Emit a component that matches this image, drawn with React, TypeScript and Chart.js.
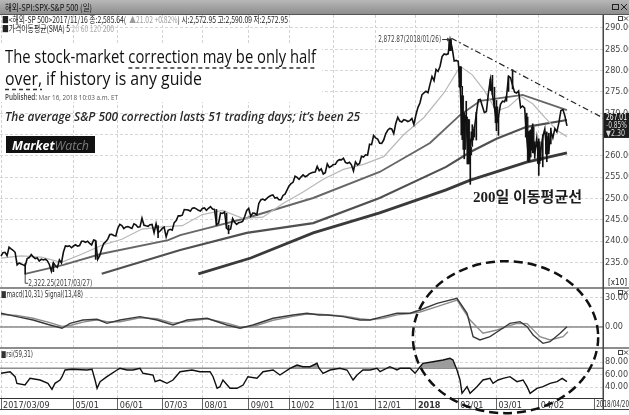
import { useEffect, useRef } from 'react';
import { Chart, registerables } from 'chart.js';
Chart.register(...registerables);

// ---------- data (price values in units of 10 index points, as on the chart's [x10] axis) ----------
const closeValues = [
  // 2017-03 (from 03/09)
  236.49, 237.26, 237.35, 236.55, 238.53, 238.14, 237.83, 237.35, 234.40, 234.85, 234.60, 234.40, 234.16, 235.86, 236.11, 236.81, 236.27,
  // 2017-04
  235.88, 236.02, 235.30, 235.75, 235.55, 235.72, 235.38, 234.49, 232.90, 234.90, 234.22, 233.82, 235.58, 234.87, 237.42, 238.86, 238.75, 238.88, 238.42,
  // 2017-05
  238.83, 239.12, 238.81, 238.95, 239.93, 239.94, 239.69, 239.96, 239.44, 239.09, 240.23, 240.07, 235.70, 236.57, 238.17, 239.40, 239.84, 240.44, 241.51, 241.58, 241.29, 241.18,
  // 2017-06
  243.01, 243.91, 243.61, 242.93, 243.31, 243.38, 243.18, 242.94, 244.04, 243.79, 243.25, 243.32, 245.35, 243.70, 243.56, 243.45, 243.83, 243.91, 241.94, 244.07, 241.97, 242.34,
  // 2017-07
  242.90, 243.25, 240.98, 242.52, 242.74, 242.55, 244.33, 244.78, 245.93, 245.91, 246.06, 247.38, 247.35, 247.25, 246.99, 247.71, 247.78, 247.54, 247.21, 247.03,
  // 2017-08
  247.64, 247.76, 247.22, 247.68, 248.09, 247.49, 247.40, 243.82, 244.13, 246.58, 246.46, 246.81, 243.00, 242.56, 242.84, 245.25, 244.40, 243.90, 244.31, 244.42, 244.63, 245.76, 247.17,
  // 2017-09
  247.66, 245.79, 246.55, 246.51, 246.14, 248.81, 249.65, 249.84, 249.56, 250.02, 250.39, 250.67, 250.82, 250.06, 250.22, 249.67, 249.68, 250.70, 251.01, 251.94,
  // 2017-10
  252.91, 253.46, 253.77, 255.21, 254.93, 254.47, 255.06, 255.52, 255.09, 255.32, 255.76, 255.94, 256.13, 256.21, 257.52, 256.50, 256.91, 255.72, 256.04, 258.11, 257.28, 257.53,
  // 2017-11
  257.94, 257.99, 258.78, 259.11, 259.06, 259.44, 258.46, 258.23, 258.48, 257.89, 256.46, 258.56, 257.89, 258.21, 259.90, 259.71, 260.24, 260.14, 262.70, 262.61, 264.76,
  // 2017-12
  264.22, 263.94, 262.96, 262.93, 263.70, 265.15, 266.00, 266.41, 266.29, 265.20, 267.58, 269.02, 268.15, 267.93, 268.46, 268.33, 268.05, 268.26, 268.75, 267.36,
  // 2018-01
  269.58, 271.31, 272.40, 274.32, 274.77, 275.13, 274.82, 276.76, 278.62, 277.64, 280.26, 279.80, 281.03, 283.30, 283.91, 283.75, 283.93, 287.29, 285.35, 282.24, 282.38,
  // 2018-02
  282.20, 276.21, 264.89, 269.51, 268.17, 258.10, 261.96, 265.60, 266.29, 269.86, 273.12, 273.22, 271.63, 270.13, 270.40, 274.73, 277.96, 274.43, 271.38,
  // 2018-03
  267.77, 269.13, 272.09, 272.81, 272.68, 273.90, 278.66, 278.30, 276.53, 274.95, 274.73, 275.20, 271.29, 271.69, 271.19, 264.37, 258.83, 265.86, 261.26, 260.50, 264.09,
  // 2018-04
  258.19, 261.45, 264.47, 266.28, 260.45, 261.32, 265.69, 264.22, 266.40, 265.63, 267.78, 270.64, 270.86, 269.31, 267.01,
];

// high-low wicks of the notable candles (trading-day index)
const wickDays = [12, 26, 47, 78, 107, 112, 113, 223, 228, 229, 230, 231, 232, 233, 234, 235, 236, 243, 244, 245, 246, 247, 251, 252, 254, 261, 262, 263, 264, 265, 267, 268, 269, 271, 272, 273];
const wickLow = [232.2, 232.8, 235.7, 240.8, 243.7, 243.0, 241.7, 284.7, 276.0, 263.8, 259.3, 268.1, 258.1, 253.3, 262.2, 264.4, 263.7, 275.3, 274.4, 271.3, 265.9, 264.8, 272.8, 275.1, 275.7, 264.3, 258.6, 259.7, 260.7, 259.4, 255.4, 258.9, 257.4, 258.6, 260.5, 262.8];
const wickHigh = [234.7, 234.8, 239.9, 243.6, 247.4, 246.5, 243.7, 287.3, 280.9, 276.3, 270.1, 272.8, 268.5, 263.9, 267.3, 266.8, 270.2, 278.0, 278.9, 276.1, 273.0, 269.3, 274.0, 278.7, 280.2, 270.0, 265.7, 266.1, 267.5, 263.3, 264.0, 261.9, 264.9, 265.6, 265.3, 266.5];
// candle bodies (open/close range) of the big candles
const bodyDays = [223, 228, 229, 230, 231, 232, 233, 234, 246, 261, 262, 263, 264, 267, 271];
const bodyLow = [284.7, 276.2, 264.9, 261.5, 268.2, 258.1, 260.2, 263.7, 267.8, 264.4, 258.8, 261.9, 261.3, 258.2, 260.4];
const bodyHigh = [287.3, 280.9, 274.1, 269.5, 269.1, 268.5, 262.0, 265.6, 271.5, 269.1, 264.6, 265.9, 266.7, 263.3, 264.5];

// simple moving averages
const sma20Days = [0, 10, 20, 30, 40, 50, 60, 70, 80, 90, 100, 110, 120, 130, 140, 150, 160, 170, 180, 190, 200, 210, 220, 228, 234, 240, 246, 252, 258, 264, 270, 276, 281];
const sma20Values = [236.0, 236.5, 236.2, 235.0, 236.9, 239.0, 240.4, 242.8, 243.3, 243.6, 246.2, 247.2, 245.3, 245.6, 248.8, 251.5, 254.5, 256.8, 258.0, 259.8, 265.0, 269.0, 274.8, 281.0, 279.0, 275.3, 270.5, 271.5, 274.0, 272.2, 269.0, 266.0, 264.5];
const sma60Days = [12, 31, 50, 83, 89, 105, 122, 155, 188, 213, 228, 238, 259, 281];
const sma60Values = [232.3, 234.4, 237.0, 240.2, 241.4, 243.3, 245.4, 250.1, 256.2, 263.0, 269.6, 272.9, 274.3, 270.7];
const sma120Days = [50, 89, 122, 155, 188, 221, 233, 246, 261, 281];
const sma120Values = [232.3, 237.9, 241.9, 244.2, 250.1, 257.4, 260.9, 264.0, 266.8, 268.4];
const sma200Days = [98, 124, 155, 188, 221, 233, 261, 281];
const sma200Values = [232.3, 236.0, 241.9, 246.6, 252.0, 254.3, 258.5, 260.7];

// MACD panel
const macdDays = [0, 7.9, 15.9, 24.3, 30.3, 34.3, 40.7, 47.7, 52.6, 59.1, 69.0, 77.5, 85.4, 92.4, 102.3, 112.2, 118.7, 125.1, 135.1, 145.0, 151.9, 157.9, 161.9, 169.8, 178.2, 183.2, 189.7, 196.6, 203.1, 208.1, 216.5, 226.4, 231.4, 234.4, 237.8, 242.8, 247.8, 252.7, 257.7, 261.2, 264.2, 269.1, 272.6, 277.6, 281.0];
const macdValues = [14.2, 10.7, 7.2, 2.1, -1.3, 3.8, 7.2, 8.0, 3.8, 7.2, 10.7, 7.2, 2.1, 7.2, 9.0, 2.1, -1.3, 2.1, 9.0, 12.4, 14.2, 12.4, 12.4, 10.7, 7.2, 7.2, 10.7, 14.2, 14.2, 17.6, 24.5, 29.7, 14.2, -10.0, -13.4, -10.0, -3.1, 3.8, 5.5, 0.3, -8.3, -16.9, -15.2, -6.5, 0.3];
const signalDays = [0, 7.9, 15.9, 24.3, 30.3, 34.3, 40.7, 47.7, 52.6, 59.1, 69.0, 77.5, 85.4, 92.4, 102.3, 112.2, 118.7, 125.1, 135.1, 145.0, 151.9, 157.9, 169.8, 178.2, 183.2, 189.7, 196.6, 203.1, 208.1, 216.5, 226.4, 232.9, 239.3, 246.3, 252.7, 256.2, 261.2, 267.6, 272.6, 279.1, 281.5];
const signalValues = [13.0, 12.0, 9.0, 4.5, 0.5, 1.5, 5.0, 7.5, 5.5, 5.5, 9.5, 8.5, 4.0, 5.5, 8.5, 4.0, 0.0, 0.5, 7.0, 11.0, 13.5, 13.2, 11.5, 8.5, 7.5, 9.0, 12.5, 13.8, 15.5, 21.0, 27.9, 7.2, -6.5, -3.1, 1.5, 3.8, 3.5, -10.0, -13.4, -10.0, -4.9];

// RSI panel
const rsiDays = [0, 4.5, 7.0, 7.9, 11.9, 14.4, 19.4, 23.3, 25.3, 26.8, 29.3, 30.3, 31.8, 35.3, 42.7, 45.2, 46.7, 47.7, 49.2, 52.6, 57.6, 59.1, 62.6, 65.5, 69.0, 70.5, 75.5, 76.5, 78.9, 82.4, 85.4, 88.9, 94.8, 98.8, 103.8, 105.3, 107.3, 108.7, 110.2, 113.7, 117.2, 120.2, 122.6, 127.1, 130.1, 135.1, 138.5, 143.5, 147.0, 149.9, 153.4, 156.9, 157.9, 159.9, 163.4, 168.3, 171.8, 174.8, 176.8, 179.7, 183.2, 186.7, 188.2, 193.1, 196.6, 198.1, 203.1, 205.6, 208.1, 209.5, 214.5, 219.5, 222.9, 224.4, 226.4, 227.9, 228.9, 231.4, 232.9, 236.3, 239.3, 242.8, 244.3, 246.8, 249.3, 252.7, 256.2, 259.2, 261.2, 262.7, 266.1, 269.1, 272.6, 276.1, 278.6, 281.0];
const rsiValues = [61.9, 64.5, 56.5, 45.9, 43.2, 53.9, 51.2, 45.9, 36.3, 45.9, 51.2, 56.5, 67.2, 68.3, 67.2, 68.3, 51.2, 37.9, 48.5, 56.5, 67.2, 69.9, 67.2, 67.2, 69.9, 61.9, 59.2, 48.5, 51.2, 45.9, 51.2, 64.5, 67.2, 64.5, 64.5, 56.5, 37.9, 40.5, 51.2, 37.9, 37.9, 43.2, 56.5, 53.9, 64.5, 67.2, 59.2, 69.9, 75.2, 72.5, 72.5, 77.9, 70.0, 61.9, 67.2, 69.9, 67.2, 51.2, 59.2, 67.2, 67.2, 69.9, 64.5, 72.5, 67.2, 69.9, 69.9, 61.9, 72.5, 77.9, 80.5, 83.2, 85.9, 83.2, 67.2, 51.2, 29.9, 40.5, 29.9, 40.5, 51.2, 53.9, 45.9, 51.2, 53.9, 56.5, 48.5, 51.2, 40.5, 29.9, 37.9, 40.5, 45.9, 48.5, 53.9, 48.5];

// axes
const xTickDays = [0, 36, 58, 80, 100, 123, 143, 165, 186, 206, 227, 246, 267, 294.5];
const xTickLabels = ['2017/03/09', '05/01', '06/01', '07/03', '08/01', '09/01', '10/02', '11/01', '12/01', '2018', '02/01', '03/01', '04/02', ''];
const lastDateLabel = '2018/04/20';
const priceTicks = [235, 240, 245, 250, 255, 260, 265, 270, 275, 280, 285, 290];
const macdTicks = [0, 30];
const rsiTicks = [40, 60, 80];

// annotations
const peakLabel = '2,872.87(2018/01/26)';
const lowLabel = '2,322.25(2017/03/27)';
const trendStart = [223.6, 287.6];
const trendEnd = [298.9, 268.9];
const lastClose = 267.01;

const NARROW = "'Liberation Sans Narrow', 'DejaVu Sans Condensed', 'Liberation Sans', sans-serif";
const KR = "'Noto Sans CJK KR', 'Noto Sans', sans-serif";
const OPEN = "'Open Sans', 'Noto Sans', sans-serif";

type Seg = { t: string; c: string; f?: string };
function drawSegs(ctx: CanvasRenderingContext2D, segs: Seg[], x: number, y: number, w: number, font: string) {
  ctx.save();
  ctx.textBaseline = 'alphabetic';
  ctx.textAlign = 'left';
  let total = 0;
  const widths: number[] = [];
  for (const s of segs) {
    ctx.font = s.f || font;
    const m = ctx.measureText(s.t).width;
    widths.push(m);
    total += m;
  }
  const sc = w / total;
  ctx.translate(x, y);
  ctx.scale(sc, 1);
  let cx = 0;
  const starts: number[] = [];
  segs.forEach((s, i) => {
    ctx.font = s.f || font;
    ctx.fillStyle = s.c;
    ctx.fillText(s.t, cx, 0);
    starts.push(x + cx * sc);
    cx += widths[i];
  });
  ctx.restore();
  return { starts, widths: widths.map((v) => v * sc) };
}

function dashLine(ctx: CanvasRenderingContext2D, x1: number, y1: number, x2: number, y2: number, dash: number[], w: number, c: string) {
  ctx.save();
  ctx.strokeStyle = c;
  ctx.lineWidth = w;
  ctx.setLineDash(dash);
  ctx.beginPath();
  ctx.moveTo(x1, y1);
  ctx.lineTo(x2, y2);
  ctx.stroke();
  ctx.restore();
}

const decor = {
  id: 'decor',
  beforeDraw(chart: any) {
    const ctx: CanvasRenderingContext2D = chart.ctx;
    const W = chart.width;
    ctx.save();
    ctx.fillStyle = '#fff';
    ctx.fillRect(0, 0, W, chart.height);
    const g = ctx.createLinearGradient(0, 0, 0, 14);
    g.addColorStop(0, '#b8b8b8');
    g.addColorStop(1, '#8e8e8e');
    ctx.fillStyle = g;
    ctx.fillRect(0, 0, W, 14);
    ctx.fillStyle = '#555';
    ctx.fillRect(0, 14, W, 1);
    ctx.strokeStyle = '#222';
    ctx.lineWidth = 1;
    ctx.strokeRect(612.5, 4.5, 6, 5);
    ctx.beginPath();
    ctx.moveTo(621, 4); ctx.lineTo(627, 10); ctx.moveTo(627, 4); ctx.lineTo(621, 10);
    ctx.stroke();
    ctx.restore();
    drawSegs(ctx, [{ t: '해외-SPI:SPX-S&P 500 (일)', c: '#111' }], 5, 10.5, 87, `9px ${KR}`);
  },
  beforeDatasetsDraw(chart: any) {
    const ctx: CanvasRenderingContext2D = chart.ctx;
    const { x, yM, yR } = chart.scales;
    ctx.save();
    ctx.fillStyle = '#fff';
    ctx.fillRect(0, 43, 322, 59);
    ctx.restore();
    dashLine(ctx, x.left, yM.getPixelForValue(0), x.right, yM.getPixelForValue(0), [], 1.5, '#8a8a8a');
    dashLine(ctx, x.left, yR.getPixelForValue(70), x.right, yR.getPixelForValue(70), [], 1.5, '#8a8a8a');
  },
  afterDraw(chart: any) {
    const ctx: CanvasRenderingContext2D = chart.ctx;
    const W = chart.width;
    const { x, y, yM, yR } = chart.scales;
    const ca = chart.chartArea;

    // panel separators and frame
    ctx.save();
    ctx.fillStyle = '#8d8d8d';
    ctx.fillRect(0, yM.top - 1, W, 2);
    ctx.fillRect(0, yR.top - 1, W, 2);
    ctx.fillStyle = '#444';
    ctx.fillRect(0, 409, W, 1);
    ctx.fillRect(ca.right - 0.5, 15, 1.5, 395);
    ctx.restore();

    // right-end date label of the x axis
    drawSegs(ctx, [{ t: lastDateLabel, c: '#333' }], x.getPixelForValue(294.5) + 2, 407, 33, `9px ${NARROW}`);

    // header info lines
    drawSegs(ctx, [
      { t: '■<해외-SP 500>2017/11/16 종:2,585.64(  ', c: '#222' },
      { t: '▲21.02 +0.82%', c: '#9a9a9a' },
      { t: ') 시:2,572.95 고:2,590.09 저:2,572.95', c: '#222' },
    ], 2, 23, 286, `9px ${KR}`);
    drawSegs(ctx, [
      { t: '■가격이동평균(SMA) 5', c: '#222' },
      { t: ' 20', c: '#c4c4c4' },
      { t: ' 60', c: '#a8a8a8' },
      { t: ' 120', c: '#b0b0b0' },
      { t: ' 200', c: '#a0a0a0' },
    ], 2, 32, 112, `9px ${KR}`);

    // headline
    const l1 = drawSegs(ctx, [
      { t: 'The stock-market ', c: '#111' },
      { t: 'correction may be only half', c: '#111' },
    ], 5, 63, 311, `500 19px ${OPEN}`);
    dashLine(ctx, l1.starts[1], 68, l1.starts[1] + l1.widths[1], 68, [4, 3], 1.5, '#333');
    const l2 = drawSegs(ctx, [
      { t: 'over,', c: '#111' },
      { t: ' if history is any guide', c: '#111' },
    ], 5, 85, 197, `500 19px ${OPEN}`);
    dashLine(ctx, l2.starts[0], 89.5, l2.starts[0] + l2.widths[0], 89.5, [4, 3], 1.5, '#333');
    drawSegs(ctx, [
      { t: 'Published: ', c: '#444', f: `600 8px ${OPEN}` },
      { t: 'Mar 16, 2018 10:03 a.m. ET', c: '#555', f: `8px ${OPEN}` },
    ], 5, 99.5, 113, `8px ${OPEN}`);
    drawSegs(ctx, [
      { t: 'The average S&P 500 correction lasts 51 trading days; it\u2019s been 25', c: '#2a2a2a' },
    ], 5, 121, 355, `italic 600 13px ${OPEN}`);
    // MarketWatch logo
    ctx.save();
    ctx.fillStyle = '#111';
    ctx.fillRect(6, 136, 89, 17);
    ctx.restore();
    drawSegs(ctx, [
      { t: 'Market', c: '#fff', f: `italic bold 13px ${OPEN}` },
      { t: 'Watch', c: '#7a7a7a', f: `italic 13px ${OPEN}` },
    ], 12, 149.5, 77, `13px ${OPEN}`);

    // trend line from the peak
    const tx1 = x.getPixelForValue(trendStart[0]);
    const ty1 = y.getPixelForValue(trendStart[1]);
    const tx2 = x.getPixelForValue(trendEnd[0]);
    const ty2 = y.getPixelForValue(trendEnd[1]);
    dashLine(ctx, tx1, ty1, tx2, ty2, [6, 3, 1.5, 3], 1.2, '#222');

    // peak label + arrow
    const px = x.getPixelForValue(223);
    const py = y.getPixelForValue(287.29);
    drawSegs(ctx, [{ t: peakLabel, c: '#444' }], px - 72, py + 2.5, 63, `9px ${NARROW}`);
    dashLine(ctx, px - 8, py, px - 1, py, [], 1, '#333');
    ctx.save();
    ctx.fillStyle = '#333';
    ctx.beginPath();
    ctx.moveTo(px, py); ctx.lineTo(px - 3, py - 2); ctx.lineTo(px - 3, py + 2); ctx.closePath(); ctx.fill();
    ctx.restore();

    // low label
    const lx = x.getPixelForValue(12);
    const ly = y.getPixelForValue(232.2);
    dashLine(ctx, lx, ly, lx, ly + 9, [], 1, '#444');
    dashLine(ctx, lx, ly + 9, lx + 3, ly + 9, [], 1, '#444');
    drawSegs(ctx, [{ t: lowLabel, c: '#444' }], lx + 3, ly + 12, 64, `9px ${NARROW}`);

    // 200-day MA caption
    drawSegs(ctx, [{ t: '200일 이동평균선', c: '#1e1e1e' }], 473, 202, 109, `bold 15px 'Liberation Serif', ${KR}`);

    // [x10] marker
    drawSegs(ctx, [{ t: '[x10]', c: '#222' }], 608, 285, 19, `9px ${NARROW}`);

    // last price box
    const by = y.getPixelForValue(lastClose);
    ctx.save();
    ctx.fillStyle = '#1c1c1c';
    ctx.fillRect(ca.right + 1, by - 13, W - ca.right - 1, 25);
    ctx.restore();
    drawSegs(ctx, [{ t: '267.01', c: '#fff' }], ca.right + 3, by - 5.5, 21, `8px ${NARROW}`);
    drawSegs(ctx, [{ t: '-0.85%', c: '#ddd' }], ca.right + 3, by + 2.5, 21, `8px ${NARROW}`);
    drawSegs(ctx, [{ t: '▼2.30', c: '#ddd' }], ca.right + 3, by + 10.5, 19, `8px ${NARROW}`);

    // panel titles
    drawSegs(ctx, [{ t: '■macd(10,31) Signal(13,48)', c: '#333' }], 1, yM.top + 9, 82, `9px ${NARROW}`);
    drawSegs(ctx, [{ t: '■rsi(59,31)', c: '#333' }], 1, yR.top + 8.5, 32, `9px ${NARROW}`);
    ctx.save();
    ctx.strokeStyle = '#444';
    ctx.lineWidth = 1;
    for (const t of [16, yM.top + 2, yR.top + 2]) {
      ctx.strokeRect(618.5, t + 0.5, 4, 4);
      ctx.beginPath();
      ctx.moveTo(624, t + 0.5); ctx.lineTo(628, t + 4.5); ctx.moveTo(628, t + 0.5); ctx.lineTo(624, t + 4.5);
      ctx.stroke();
    }
    ctx.restore();

    // dashed ellipse around the correction period
    const cx = x.getPixelForValue(250.5);
    const cy = yM.getPixelForValue(-10.5);
    const rx = x.getPixelForValue(296.5) - cx;
    ctx.save();
    ctx.strokeStyle = '#111';
    ctx.lineWidth = 2.5;
    ctx.setLineDash([9, 5]);
    ctx.beginPath();
    ctx.ellipse(cx, cy, rx, 76, 0, 0, Math.PI * 2);
    ctx.stroke();
    ctx.restore();
  },
};

const pts = (days: number[], vals: number[]) => days.map((d, i) => ({ x: d, y: vals[i] }));

const yAxis = (weight: number, min: number, max: number, ticks: number[]) => ({
  type: 'linear', position: 'right', stack: 'panels', stackWeight: weight, min, max, offset: false,
  afterBuildTicks: (s: any) => { s.ticks = ticks.map((v) => ({ value: v })); },
  afterFit: (s: any) => { s.width = 26; },
  ticks: { autoSkip: false, color: '#444', font: { family: NARROW, size: 9 }, padding: 2, callback: (v: any) => Number(v).toFixed(2) },
  grid: { color: '#d6d6d6', drawTicks: false },
  border: { display: false, dash: [3, 2] },
});

export default function App() {
  const ref = useRef<HTMLCanvasElement>(null);
  useEffect(() => {
    document.body.style.margin = '0';
    const line = (label: string, data: any[], color: string, width: number, axis: string, order: number, extra: any = {}) => ({
      type: 'line', label, data, borderColor: color, borderWidth: width, pointRadius: 0, yAxisID: axis, xAxisID: 'x', order, tension: 0, ...extra,
    });
    const chart = new Chart(ref.current as HTMLCanvasElement, {
      type: 'line',
      data: {
        datasets: [
          line('Price', closeValues.map((v, i) => ({ x: i, y: v })), '#111', 1.6, 'y', 0),
          { type: 'bar', label: 'Wick', data: wickDays.map((d, i) => ({ x: d, y: [wickLow[i], wickHigh[i]] })), backgroundColor: '#111', barThickness: 1, grouped: false, yAxisID: 'y', xAxisID: 'x', order: 1 },
          { type: 'bar', label: 'Body', data: bodyDays.map((d, i) => ({ x: d, y: [bodyLow[i], bodyHigh[i]] })), backgroundColor: '#222', barThickness: 3, grouped: false, yAxisID: 'y', xAxisID: 'x', order: 1 },
          line('SMA20', pts(sma20Days, sma20Values), '#b8b8b8', 1.2, 'y', 2),
          line('SMA60', pts(sma60Days, sma60Values), '#666', 1.9, 'y', 3),
          line('SMA120', pts(sma120Days, sma120Values), '#505050', 2.2, 'y', 4),
          line('SMA200', pts(sma200Days, sma200Values), '#3a3a3a', 2.8, 'y', 5),
          line('MACD', pts(macdDays, macdValues), '#3a3a3a', 1.4, 'yM', 6),
          line('Signal', pts(signalDays, signalValues), '#8c8c8c', 1.4, 'yM', 7),
          line('RSI', pts(rsiDays, rsiValues), '#111', 1.4, 'yR', 8, { fill: { target: { value: 70 }, above: '#9c9c9c', below: 'rgba(0,0,0,0)' } }),
        ] as any,
      },
      options: {
        responsive: false,
        animation: false,
        devicePixelRatio: 1,
        events: [],
        layout: { padding: { top: 15, left: 0, right: 0, bottom: 0 } },
        plugins: { legend: { display: false }, tooltip: { enabled: false }, title: { display: false } },
        scales: {
          x: {
            type: 'linear', position: 'bottom', min: -0.5, max: 298.9, offset: false,
            afterBuildTicks: (s: any) => { s.ticks = xTickDays.map((v) => ({ value: v })); },
            afterFit: (s: any) => { s.height = 17; },
            ticks: {
              autoSkip: false, maxRotation: 0, minRotation: 0, align: 'start', labelOffset: 2, padding: -9, color: '#333',
              font: (c: any) => ({ family: NARROW, size: 9, weight: c.tick && c.tick.label === '2018' ? 'bold' : 'normal' }),
              callback: (_v: any, i: number) => xTickLabels[i],
            },
            grid: {
              offset: false,
              color: (c: any) => (c.tick && c.tick.value > 290 ? 'rgba(0,0,0,0)' : '#d2d2d2'),
              lineWidth: 1, drawTicks: true, tickLength: 11, tickColor: '#666', tickBorderDash: [],
            },
            border: { display: true, color: '#333', width: 1, dash: [3, 2] },
          },
          y: yAxis(273, 228.97, 293.05, priceTicks),
          yM: yAxis(60, -21.73, 40.34, macdTicks),
          yR: yAxis(50, 22.4, 102.4, rsiTicks),
        },
      } as any,
      plugins: [decor],
    });
    return () => chart.destroy();
  }, []);
  return (
    <div style={{ width: 629, height: 415, position: 'relative' }}>
      <canvas ref={ref} width={629} height={415} style={{ display: 'block' }} />
    </div>
  );
}
